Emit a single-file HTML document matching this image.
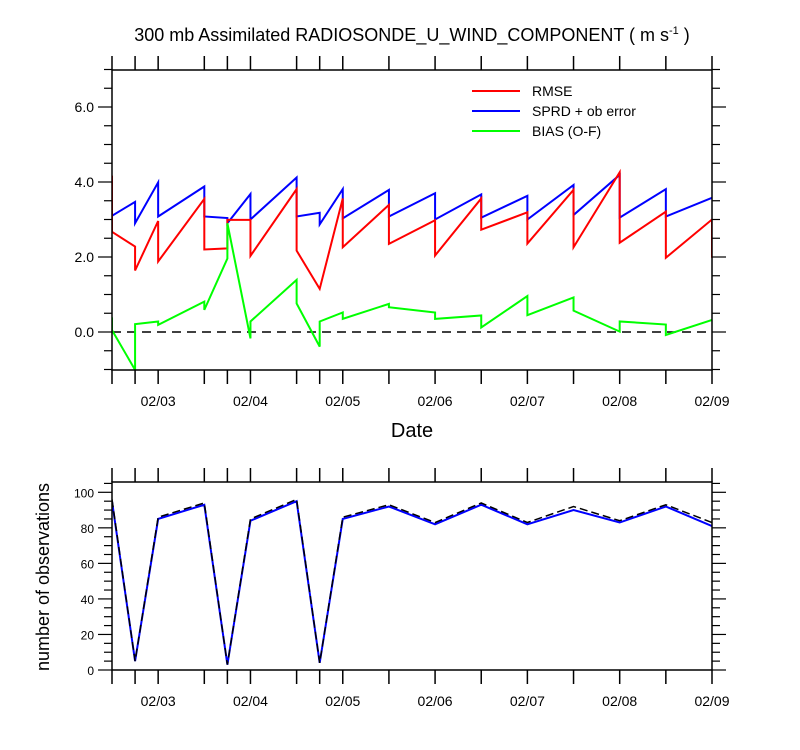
<!DOCTYPE html>
<html><head><meta charset="utf-8"><style>
html,body{margin:0;padding:0;background:#fff;}
svg{display:block;font-family:"Liberation Sans",Arial,sans-serif;}
</style></head><body>
<svg id="chart" width="800" height="750" xmlns="http://www.w3.org/2000/svg">
<text x="412" y="41" font-size="18" text-anchor="middle">300 mb Assimilated RADIOSONDE_U_WIND_COMPONENT ( m s<tspan dy="-7" font-size="11">-1</tspan><tspan dy="7"> )</tspan></text>
<g id="topPanel"></g>
<g id="botPanel"></g>
<text x="412" y="437" font-size="20" text-anchor="middle">Date</text>
<text transform="translate(49,577) rotate(-90)" font-size="18" text-anchor="middle">number of observations</text>
<g>
<line x1="472" y1="91" x2="520" y2="91" stroke="#f00" stroke-width="2"/>
<text x="532" y="96" font-size="14">RMSE</text>
<line x1="472" y1="111" x2="520" y2="111" stroke="#00f" stroke-width="2"/>
<text x="532" y="116" font-size="14">SPRD + ob error</text>
<line x1="472" y1="131" x2="520" y2="131" stroke="#0f0" stroke-width="2"/>
<text x="532" y="136" font-size="14">BIAS (O-F)</text>
</g>
</svg>
<script>
// hours since 02/02 12Z
const times=[0,6,12,24,30,36,48,54,60,72,84,96,108,120,132,144,156];
const rmseBefore=[4.17,2.28,2.96,3.55,2.23,2.99,3.81,1.15,3.56,3.39,2.98,3.56,3.19,3.79,4.26,3.21,3.0];
const rmseAfter =[2.67,1.64,1.88,2.2,2.99,2.03,2.17,1.15,2.26,2.35,2.04,2.73,2.36,2.26,2.38,1.98,1.98];
const sprdBefore=[3.1,3.47,3.99,3.88,3.04,3.68,4.12,3.18,3.81,3.79,3.7,3.67,3.63,3.92,4.19,3.81,3.58];
const sprdAfter =[3.1,2.9,3.08,3.08,2.9,3.0,3.08,2.87,3.03,3.08,3.0,3.05,3.0,3.12,3.05,3.08,3.58];
const biasBefore=[0.39,-1.01,0.28,0.81,1.96,-0.17,1.39,-0.39,0.52,0.75,0.52,0.44,0.96,0.92,0.01,0.2,0.32];
const biasAfter =[0.05,0.21,0.19,0.59,2.9,0.28,0.76,0.28,0.35,0.66,0.35,0.12,0.45,0.57,0.28,-0.08,0.32];
const nobsUsed=[95,5,85,93,3,84,95,4,85,92,82,93,82,90,83,92,81];
const nobsTotal=[96,5,86,94,3,85,96,4,86,93,83,94,83,92,84,93,83];
const dateLabels=["02/03","02/04","02/05","02/06","02/07","02/08","02/09"];
const topTickLabels=["0.0","2.0","4.0","6.0"];
const botTickLabels=["0","20","40","60","80","100"];

const NS="http://www.w3.org/2000/svg";
const X0=112,X1=712,T1=156;
const xs=t=>X0+(X1-X0)*t/T1;
const yt=v=>332-37.5*v;
const yb=v=>670-1.777*v;
function mk(tag,attrs,parent){const e=document.createElementNS(NS,tag);for(const k in attrs)e.setAttribute(k,attrs[k]);parent.appendChild(e);return e;}
const gTop=document.getElementById('topPanel'),gBot=document.getElementById('botPanel');
const tickHours=[0,6,12,24,30,36,48,54,60,72,84,96,108,120,132,144,156];

function frame(g,yTop,yBot,name){
  const r=mk('rect',{x:X0,y:yTop,width:X1-X0,height:yBot-yTop,fill:'none',stroke:'#000','stroke-width':1.5},g);
  
  
  tickHours.forEach(h=>{
    const x=xs(h);
    const a=mk('line',{x1:x,y1:yTop-14,x2:x,y2:yTop,stroke:'#000','stroke-width':1.5},g);
    
    
    const b=mk('line',{x1:x,y1:yBot,x2:x,y2:yBot+14,stroke:'#000','stroke-width':1.5},g);
    
    
  });
  dateLabels.forEach((d,i)=>{
    const t=mk('text',{x:xs(12+24*i),y:yBot+36,'font-size':14,'text-anchor':'middle'},g);
    t.textContent=d;
    
    
  });
}
function yticks(g,vmin,vmax,step,majorEvery,fy,labels,labStep,name){
  for(let v=vmin;v<=vmax+1e-9;v+=step){
    const y=fy(v);const major=Math.abs(Math.round(v/majorEvery)*majorEvery-v)<1e-6;
    const L=major?14:8;
    const a=mk('line',{x1:X0-L,y1:y,x2:X0,y2:y,stroke:'#000','stroke-width':1.2},g);
    
    
    const b=mk('line',{x1:X1,y1:y,x2:X1+L,y2:y,stroke:'#000','stroke-width':1.2},g);
    
    
  }
  labels.forEach((l,i)=>{
    const t=mk('text',{x:X0-18,y:fy(i*labStep)+5,'font-size':name==='top'?14:12,'text-anchor':'end'},g);
    t.textContent=l;
    
    
  });
}
function stepPath(before,after,fy){
  let d='';
  times.forEach((t,i)=>{const x=xs(t);d+=(i?'L':'M')+x+','+fy(before[i])+'L'+x+','+fy(after[i]);});
  return d;
}
// top panel
const cp=mk('clipPath',{id:'cpTop'},gTop);mk('rect',{x:X0,y:70,width:X1-X0,height:300},cp);
const zl=mk('line',{x1:X0,y1:yt(0),x2:X1,y2:yt(0),stroke:'#000','stroke-width':1.5,'stroke-dasharray':'9,6'},gTop);


const gT=mk('g',{'clip-path':'url(#cpTop)'},gTop);
[[sprdBefore,sprdAfter,'#00f','sprd-line'],[rmseBefore,rmseAfter,'#f00','rmse-line'],[biasBefore,biasAfter,'#0f0','bias-line']].forEach(s=>{
  const p=mk('path',{d:stepPath(s[0],s[1],yt),fill:'none',stroke:s[2],'stroke-width':2},gT);
  
  
});
frame(gTop,70,370,'top');
yticks(gTop,-1,7,0.5,2,yt,topTickLabels,2,'top');
// bottom panel
const cb=mk('clipPath',{id:'cpBot'},gBot);mk('rect',{x:X0,y:482,width:X1-X0,height:188},cb);
const gB=mk('g',{'clip-path':'url(#cpBot)'},gBot);
let dT='',dU='';
times.forEach((t,i)=>{dT+=(i?'L':'M')+xs(t)+','+yb(nobsTotal[i]);dU+=(i?'L':'M')+xs(t)+','+yb(nobsUsed[i]);});
const pu=mk('path',{d:dU,fill:'none',stroke:'#00f','stroke-width':2},gB);


const pt=mk('path',{d:dT,fill:'none',stroke:'#000','stroke-width':1.5,'stroke-dasharray':'8,4'},gB);


frame(gBot,482,670,'bottom');
yticks(gBot,0,105,5,20,yb,botTickLabels,20,'bottom');
</script>
</body></html>
